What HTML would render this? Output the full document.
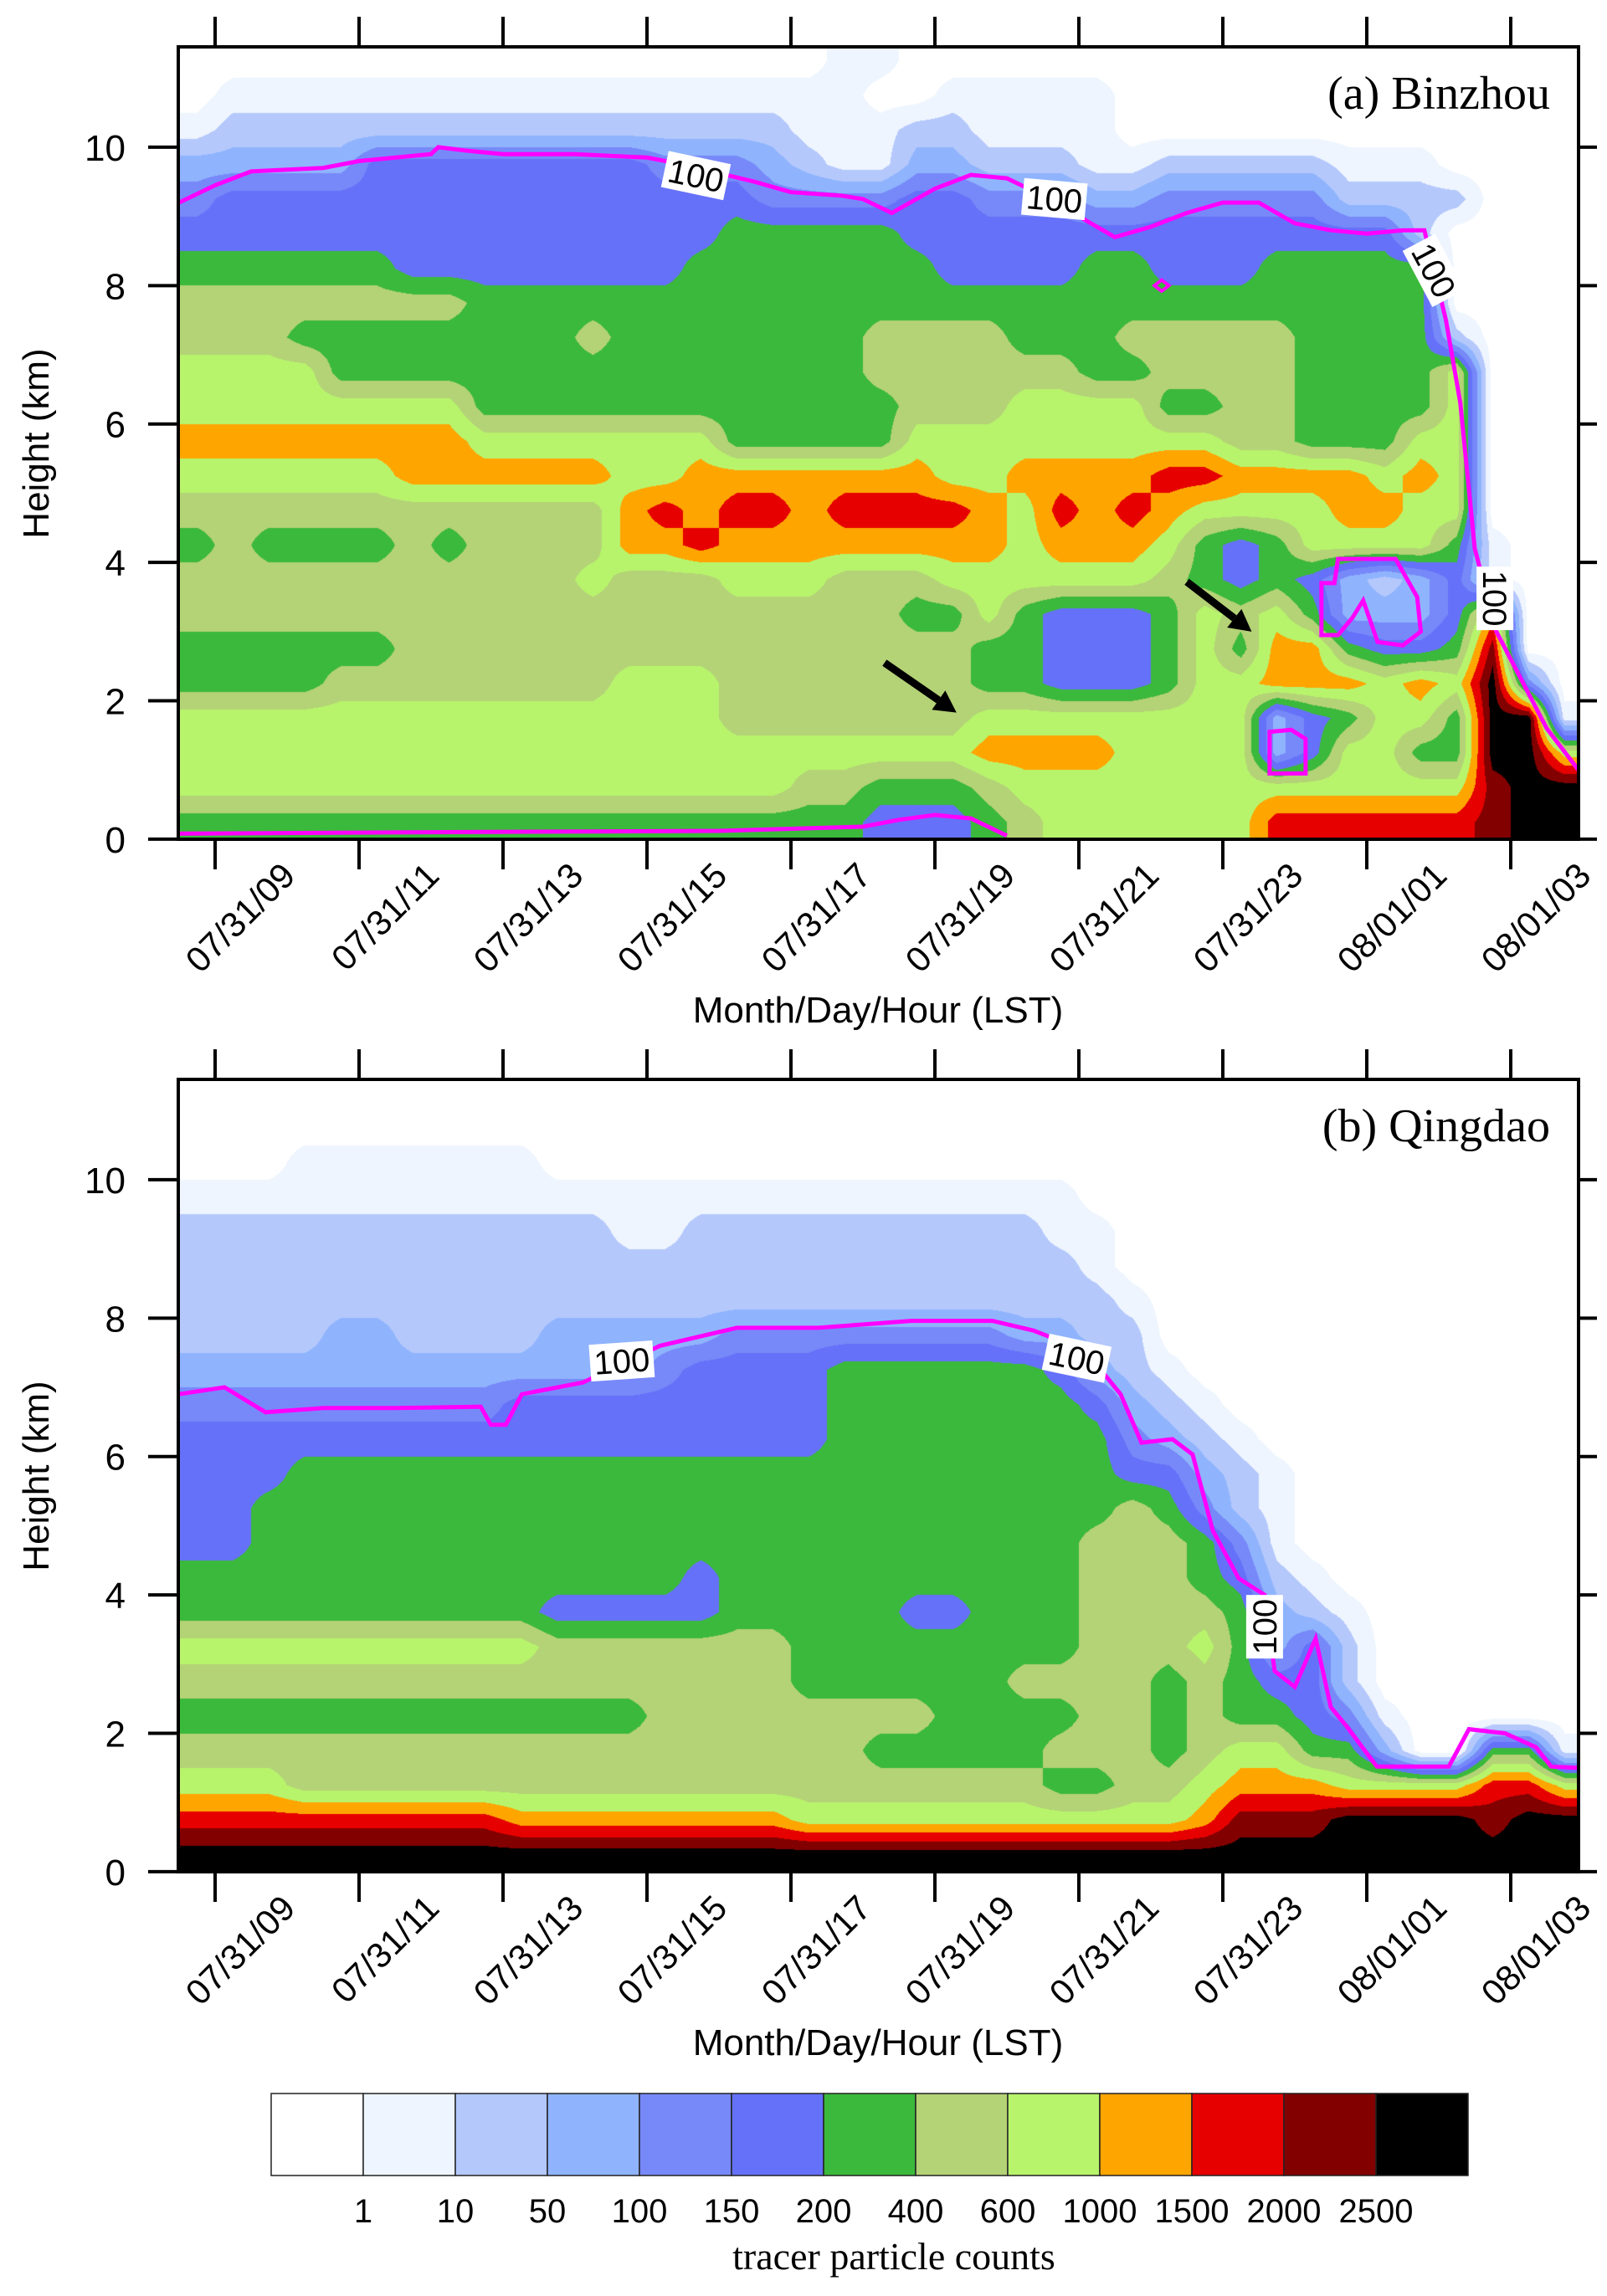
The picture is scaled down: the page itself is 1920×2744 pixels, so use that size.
<!DOCTYPE html>
<html><head><meta charset="utf-8">
<style>
html,body{margin:0;padding:0;background:#fff;}
#wrap{position:relative;width:1920px;height:2744px;overflow:hidden;background:#fff;}
canvas{position:absolute;left:213px;}
svg{position:absolute;left:0;top:0;}
</style></head>
<body>
<div id="wrap">
<canvas id="cA" width="1673" height="947" style="top:56px"></canvas>
<canvas id="cB" width="1673" height="947" style="top:1290px"></canvas>
<svg id="ov" width="1920" height="2744" xmlns="http://www.w3.org/2000/svg">
  <text x="1852" y="130" font-family="Liberation Serif, serif" font-size="56" text-anchor="end">(a) Binzhou</text>
  <text x="1852" y="1364" font-family="Liberation Serif, serif" font-size="56" text-anchor="end">(b) Qingdao</text>
  <text transform="translate(58,530) rotate(-90)" font-family="Liberation Sans, sans-serif" font-size="44" text-anchor="middle">Height (km)</text>
  <text transform="translate(58,1764) rotate(-90)" font-family="Liberation Sans, sans-serif" font-size="44" text-anchor="middle">Height (km)</text>
  <text x="1049" y="1222" font-family="Liberation Sans, sans-serif" font-size="44" text-anchor="middle">Month/Day/Hour (LST)</text>
  <text x="1049" y="2456" font-family="Liberation Sans, sans-serif" font-size="44" text-anchor="middle">Month/Day/Hour (LST)</text>
  <text x="1068" y="2712" font-family="Liberation Serif, serif" font-size="46" text-anchor="middle">tracer particle counts</text>
</svg>
</div>
<script>
// ---- data ----
const levelColors = ["#FFFFFF","#EEF5FE","#B5C8FC","#8FB4FD","#7789F9","#6571F8","#3BB93C","#B4D276","#B7F46C","#FFA500","#E60000","#820000","#000000"];
const levelLabels = ["1","10","50","100","150","200","400","600","1000","1500","2000","2500"];
const xTickHours = [9,11,13,15,17,19,21,23,25,27];
const xTickLabels = ["07/31/09","07/31/11","07/31/13","07/31/15","07/31/17","07/31/19","07/31/21","07/31/23","08/01/01","08/01/03"];
const yTicks = [0,2,4,6,8,10];
// grid: columns at 8.75h + 0.5h steps (39), rows at 11.25 km down to 0.25 km (23); char = level index (hex)
const gridA = [
"000000000000000000"+"11"+"0000000000000000000",
"0"+"111111111111111111"+"00"+"11111"+"0000000000000",
"1"+"2222222222222222"+"1"+"11"+"22"+"1111"+"0000000000000",
"3"+"3333"+"55555555"+"444"+"3"+"211"+"33"+"222"+"11"+"22222"+"111"+"0000",
"4"+"555555555555555"+"4444"+"55"+"444"+"33"+"44444"+"2222"+"0"+"00",
"555555555555555"+"66666"+"555555555555"+"55"+"2"+"0000",
"666666"+"55555555"+"6666666"+"5555"+"66"+"555"+"66666"+"0"+"000",
"77777777"+"666666666666666666666666666"+"0"+"000",
"777"+"66666666"+"7"+"6666666"+"7777"+"666"+"77777"+"6666"+"2"+"000",
"8888"+"666666666"+"666666"+"7777"+"77"+"66"+"7777"+"6666"+"8"+"000",
"88888888"+"6666666666"+"66"+"777"+"8888"+"66"+"77"+"6666"+"8"+"000",
"99999999"+"8888888"+"66666"+"888888888"+"77"+"666"+"88"+"000",
"888888"+"999999"+"88"+"9999999"+"88"+"9999"+"aa"+"9999"+"8"+"9"+"8"+"000",
"777777777777"+"9"+"a"+"9"+"aa"+"9"+"aaaa"+"9"+"8"+"a"+"9"+"a"+"9"+"8888"+"99"+"88"+"0"+"00",
"67666676"+"7777"+"99a"+"99999999"+"8"+"999"+"8"+"6"+"5"+"6"+"8888"+"6"+"1"+"00",
"77777777777"+"8"+"777"+"888"+"777"+"888888"+"7"+"6"+"5"+"6"+"5"+"3"+"2"+"3"+"5"+"1"+"00",
"77777777777777777777"+"66"+"8"+"6"+"555"+"6"+"8"+"7"+"8"+"6"+"333"+"5"+"9"+"0"+"0",
"666666"+"7777777777777777"+"66"+"555"+"6"+"8"+"6"+"99"+"6"+"55"+"6"+"b"+"0"+"0",
"6666"+"77777777"+"888"+"7777777"+"66"+"555"+"6"+"88"+"999"+"8"+"9"+"8"+"c"+"4"+"0",
"888888888888888"+"7777777"+"88888888"+"3"+"5"+"6"+"88"+"6"+"cc"+"1",
"8888888888888888888888"+"9999"+"8888"+"3"+"5"+"88"+"66"+"cc"+"8",
"88888888888888888"+"77"+"666"+"7"+"8888888"+"888888"+"b"+"cc",
"6666666666666666666"+"555"+"6"+"7"+"888888"+"aaaa"+"aa"+"b"+"cc"
];
const gridB = [
"0".repeat(39),
"0".repeat(39),
"000"+"1111111"+"0".repeat(29),
"1".repeat(25)+"0".repeat(14),
"2".repeat(12)+"11"+"2".repeat(10)+"11"+"0".repeat(13),
"2".repeat(25)+"1"+"0".repeat(13),
"2".repeat(26)+"1"+"0".repeat(12),
"2222"+"33"+"2222"+"33333"+"44444444"+"33"+"22"+"0".repeat(12),
"3".repeat(13)+"4"+"5555"+"666666"+"5"+"3"+"2"+"1"+"0".repeat(11),
"4".repeat(9)+"5".repeat(9)+"6".repeat(7)+"5"+"3"+"2"+"1"+"0".repeat(10),
"5".repeat(18)+"6".repeat(8)+"4"+"3"+"2"+"1"+"0".repeat(9),
"555"+"6".repeat(23)+"55"+"3"+"2"+"1"+"0".repeat(8),
"55"+"6".repeat(24)+"7"+"6"+"4"+"2"+"1"+"0".repeat(8),
"55"+"6".repeat(23)+"777"+"6"+"4"+"1"+"0".repeat(8),
"6".repeat(14)+"5"+"6".repeat(10)+"777"+"6"+"5"+"2"+"1"+"0".repeat(7),
"6".repeat(10)+"5".repeat(5)+"6".repeat(5)+"55"+"666"+"7777"+"6"+"3"+"2"+"1"+"0".repeat(6),
"8".repeat(10)+"7".repeat(7)+"6".repeat(8)+"777"+"8"+"6"+"3"+"5"+"2"+"0".repeat(6),
"7".repeat(17)+"6".repeat(6)+"7777"+"6"+"7"+"6"+"55"+"2"+"0".repeat(6),
"6".repeat(13)+"7".repeat(8)+"6666"+"77"+"6"+"7"+"66"+"5"+"4"+"1"+"0".repeat(5),
"7".repeat(19)+"6".repeat(5)+"777"+"6"+"7"+"88"+"66"+"3"+"00"+"66"+"1",
"888"+"7".repeat(21)+"66"+"77"+"8"+"999"+"8888"+"aa"+"8",
"a".repeat(9)+"9".repeat(8)+"8".repeat(11)+"9"+"bbb"+"cccc"+"b"+"cc",
"c".repeat(39)
];
// 100-count contour (magenta) lines
const lineA_t = [8.5,9,9.5,10.5,11,12,12.1,12.5,13,14,15,15.5,16.5,17,17.7,18,18.4,19,19.5,20,20.5,21,21.5,22,22.5,23,23.5,24,24.5,25,25.5,25.8,26.1,26.3,26.5,26.8,27.2,27.5,27.94];
const lineA_h = [9.2,9.45,9.65,9.7,9.8,9.9,10.0,9.95,9.9,9.9,9.85,9.75,9.5,9.35,9.3,9.25,9.05,9.4,9.6,9.55,9.3,9.0,8.7,8.85,9.05,9.2,9.2,8.9,8.8,8.75,8.8,8.8,7.5,6.3,4.2,3.0,2.2,1.6,1.0];
const lineA2_t = [8.49,12,16,18,18.5,19,19.5,20.0];
const lineA2_h = [0.08,0.1,0.12,0.18,0.28,0.35,0.3,0.05];
const boxA1_t = [24.37,24.37,24.55,24.6,25.4,25.7,25.75,25.5,25.15,24.95,24.8,24.6];
const boxA1_h = [2.95,3.7,3.7,4.05,4.05,3.5,3.0,2.8,2.85,3.45,3.2,2.95];
const boxA2_t = [23.65,23.65,23.95,24.15,24.15];
const boxA2_h = [0.95,1.55,1.58,1.45,0.95];
const boxA3_t = [22.05,22.15,22.25,22.15];
const boxA3_h = [8.0,8.08,8.0,7.92];
const lineB_t = [8.49,9.13,9.7,10.5,11.5,12.69,12.83,13.04,13.26,14.11,15.18,16.25,17.38,18.67,19.8,20.37,21.09,21.58,21.87,22.3,22.58,22.86,23.22,23.58,23.72,24.0,24.29,24.5,24.72,25.14,26.14,26.42,26.92,27.35,27.56,27.94];
const lineB_h = [6.9,7.0,6.64,6.7,6.7,6.72,6.46,6.46,6.9,7.07,7.6,7.86,7.86,7.96,7.96,7.82,7.53,6.9,6.2,6.25,6.03,4.93,4.24,4.0,2.9,2.67,3.37,2.38,2.1,1.52,1.52,2.06,2.0,1.8,1.52,1.5];
const labA_t = [15.68,20.66,25.93,26.78], labA_h = [9.59,9.25,8.22,3.48], labA_r = [12,5,62,90];
const labB_t = [14.65,20.97,23.58], labB_h = [7.38,7.42,3.54], labB_r = [-4,12,-90];
const arrows_t0 = [18.3,22.5], arrows_h0 = [2.55,3.72], arrows_t1 = [19.3,23.4], arrows_h1 = [1.83,3.0];

// ---- axes ----
const X0 = 213, PW = 1673, PH = 947, KM = 82.7, TOPKM = 11.45;
const PTOP = [56, 1290];
function xOf(h){ return 257 + (h - 9) * 86; }
function yOf(p, km){ return PTOP[p] + (TOPKM - km) * KM; }

function render(canvas, rows){
  const ctx = canvas.getContext('2d');
  const img = ctx.createImageData(PW, PH);
  const G = rows.map(r => { const a = []; for (let i = 0; i < 39; i++) a.push(parseInt(r[i] || r[r.length-1], 16)); return a; });
  const nr = G.length, nc = 39;
  const rgb = levelColors.map(c => [parseInt(c.substr(1,2),16),parseInt(c.substr(3,2),16),parseInt(c.substr(5,2),16)]);
  for (let py = 0; py < PH; py++){
    const h = TOPKM - (py + 0.5) / KM;
    let fy = (11.25 - h) / 0.5; fy = Math.max(0, Math.min(nr - 1, fy));
    const r0 = Math.floor(fy), r1 = Math.min(nr - 1, r0 + 1), wy = fy - r0;
    for (let px = 0; px < PW; px++){
      const t = 9 + (X0 + px + 0.5 - 257) / 86;
      let fx = (t - 8.75) / 0.5; fx = Math.max(0, Math.min(nc - 1, fx));
      const c0 = Math.floor(fx), c1 = Math.min(nc - 1, c0 + 1), wx = fx - c0;
      const v = (G[r0][c0]*(1-wx) + G[r0][c1]*wx)*(1-wy) + (G[r1][c0]*(1-wx) + G[r1][c1]*wx)*wy;
      const L = Math.max(0, Math.min(12, Math.round(v)));
      const k = (py * PW + px) * 4, c = rgb[L];
      img.data[k] = c[0]; img.data[k+1] = c[1]; img.data[k+2] = c[2]; img.data[k+3] = 255;
    }
  }
  ctx.putImageData(img, 0, 0);
}
render(document.getElementById('cA'), gridA);
render(document.getElementById('cB'), gridB);

const NS = 'http://www.w3.org/2000/svg';
const ov = document.getElementById('ov');
function mk(tag, attrs, parent){ const e = document.createElementNS(NS, tag); for (const k in attrs) e.setAttribute(k, attrs[k]); (parent || ov).appendChild(e); return e; }

function polyPts(p, ts, hs){ return ts.map((t,i) => xOf(t).toFixed(1) + ',' + yOf(p, hs[i]).toFixed(1)).join(' '); }

let e;
e = mk('polyline', {points: polyPts(0, lineA_t, lineA_h), fill:'none', stroke:'#FF00FF', 'stroke-width':5});


e = mk('polyline', {points: polyPts(0, lineA2_t, lineA2_h), fill:'none', stroke:'#FF00FF', 'stroke-width':5});


e = mk('polygon', {points: polyPts(0, boxA1_t, boxA1_h), fill:'none', stroke:'#FF00FF', 'stroke-width':5});


e = mk('polygon', {points: polyPts(0, boxA2_t, boxA2_h), fill:'none', stroke:'#FF00FF', 'stroke-width':5});


e = mk('polygon', {points: polyPts(0, boxA3_t, boxA3_h), fill:'none', stroke:'#FF00FF', 'stroke-width':4});


e = mk('polyline', {points: polyPts(1, lineB_t, lineB_h), fill:'none', stroke:'#FF00FF', 'stroke-width':5});



function contourLabel(p, t, h, rot){
  const g = mk('g', {transform: 'translate(' + xOf(t) + ',' + yOf(p, h) + ') rotate(' + rot + ')'});
  
  
  mk('rect', {x:-38, y:-22, width:76, height:44, fill:'#fff'}, g);
  const tx = mk('text', {x:0, y:14, 'font-family':'Liberation Sans, sans-serif', 'font-size':40, 'text-anchor':'middle'}, g);
  tx.textContent = '100';
}
labA_t.forEach((t,i) => contourLabel(0, t, labA_h[i], labA_r[i]));
labB_t.forEach((t,i) => contourLabel(1, t, labB_h[i], labB_r[i]));

arrows_t0.forEach((t,i) => {
  const x0 = xOf(t), y0 = yOf(0, arrows_h0[i]), x1 = xOf(arrows_t1[i]), y1 = yOf(0, arrows_h1[i]);
  const g = mk('g', {});
  
  
  const ang = Math.atan2(y1 - y0, x1 - x0), L = 26;
  const bx = x1 - L*Math.cos(ang), by = y1 - L*Math.sin(ang);
  mk('line', {x1:x0, y1:y0, x2:bx, y2:by, stroke:'#000', 'stroke-width':9}, g);
  const px = -Math.sin(ang)*14, py = Math.cos(ang)*14;
  mk('polygon', {points: x1+','+y1+' '+(bx+px)+','+(by+py)+' '+(bx-px)+','+(by-py), fill:'#000'}, g);
});

[0,1].forEach(p => {
  const top = PTOP[p], bot = top + PH, right = X0 + PW;
  const fr = mk('rect', {x:X0, y:top, width:PW, height:PH, fill:'none', stroke:'#000', 'stroke-width':4});
  
  
  xTickHours.forEach((h,i) => {
    const x = xOf(h);
    const tk = mk('line', {x1:x, y1:bot, x2:x, y2:bot+36, stroke:'#000', 'stroke-width':4});
    
    
    const tt = mk('line', {x1:x, y1:top, x2:x, y2:top-36, stroke:'#000', 'stroke-width':4});
    
    
    const lb = mk('text', {transform:'translate(' + (x+98) + ',' + (bot+46) + ') rotate(-45)', 'font-family':'Liberation Sans, sans-serif', 'font-size':42, 'text-anchor':'end'});
    
    
    lb.textContent = xTickLabels[i];
  });
  yTicks.forEach(v => {
    const y = yOf(p, v);
    const tk = mk('line', {x1:X0-36, y1:y, x2:X0, y2:y, stroke:'#000', 'stroke-width':4});
    
    
    const tr = mk('line', {x1:right, y1:y, x2:right+22, y2:y, stroke:'#000', 'stroke-width':4});
    
    
    const lb = mk('text', {x:150, y:y+16, 'font-family':'Liberation Sans, sans-serif', 'font-size':44, 'text-anchor':'end'});
    
    
    lb.textContent = String(v);
  });
});

const CB_X = 324, CB_W = 110, CB_Y = 2502, CB_H = 98;
levelColors.forEach((c,i) => {
  const r = mk('rect', {x:CB_X + i*CB_W, y:CB_Y, width:CB_W, height:CB_H, fill:c, stroke:'#222', 'stroke-width':1.5});
  
  
});
levelLabels.forEach((s,i) => {
  const t = mk('text', {x:CB_X + (i+1)*CB_W, y:2656, 'font-family':'Liberation Sans, sans-serif', 'font-size':40, 'text-anchor':'middle'});
  
  
  t.textContent = s;
});
</script>
</body></html>
